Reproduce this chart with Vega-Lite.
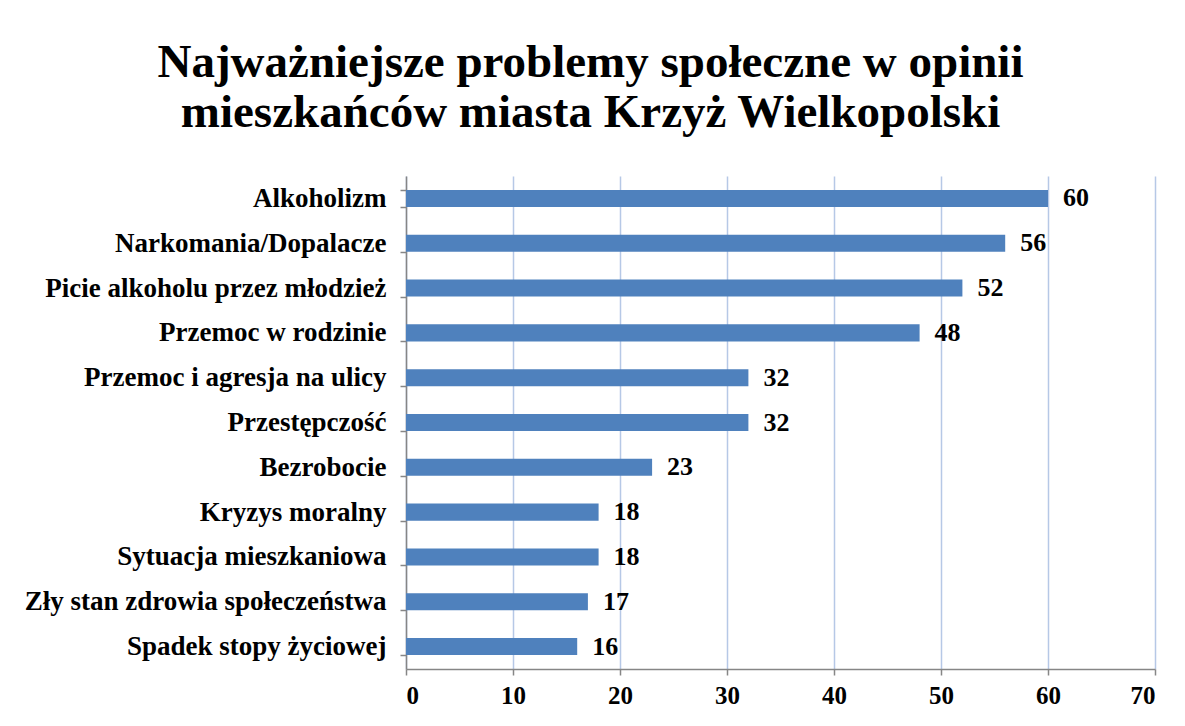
{
  "$schema": "https://vega.github.io/schema/vega-lite/v6.json",
  "width": 749,
  "height": 493,
  "autosize": {"type": "none"},
  "padding": {"left": 406, "top": 176, "right": 30, "bottom": 57},
  "background": "white",
  "title": {
    "text": ["Najważniejsze problemy społeczne w opinii", "mieszkańców miasta Krzyż Wielkopolski"],
    "font": "Liberation Serif",
    "fontSize": 47,
    "fontWeight": "bold",
    "color": "#000000",
    "anchor": "middle",
    "frame": "group",
    "dx": -190,
    "lineHeight": 50,
    "offset": 25
  },
  "config": {
    "view": {"stroke": null},
    "axis": {
      "labelFont": "Liberation Serif",
      "labelFontSize": 27,
      "labelFontWeight": "bold",
      "labelColor": "#000000",
      "labelLimit": 0,
      "domainColor": "#868686",
      "tickColor": "#868686",
      "domainWidth": 1.5,
      "tickWidth": 1.5,
      "title": null
    }
  },
  "data": {
    "values": [
      {"problem": "Alkoholizm", "value": 60},
      {"problem": "Narkomania/Dopalacze", "value": 56},
      {"problem": "Picie alkoholu przez młodzież", "value": 52},
      {"problem": "Przemoc w rodzinie", "value": 48},
      {"problem": "Przemoc i agresja na ulicy", "value": 32},
      {"problem": "Przestępczość", "value": 32},
      {"problem": "Bezrobocie", "value": 23},
      {"problem": "Kryzys moralny", "value": 18},
      {"problem": "Sytuacja mieszkaniowa", "value": 18},
      {"problem": "Zły stan zdrowia społeczeństwa", "value": 17},
      {"problem": "Spadek stopy życiowej", "value": 16}
    ]
  },
  "encoding": {
    "y": {
      "field": "problem",
      "type": "nominal",
      "sort": null,
      "scale": {"paddingInner": 0.62, "paddingOuter": 0.31},
      "axis": {
        "tickBand": "extent",
        "tickSize": 6,
        "labelPadding": 14,
        "grid": false
      }
    },
    "x": {
      "field": "value",
      "type": "quantitative",
      "scale": {"domain": [0, 70], "nice": false},
      "axis": {
        "values": [0, 10, 20, 30, 40, 50, 60, 70],
        "tickSize": 6,
        "labelPadding": 8,
        "labelFontSize": 25,
        "grid": true,
        "gridColor": "#b6c8e6",
        "gridWidth": 1.5
      }
    }
  },
  "layer": [
    {"mark": {"type": "bar", "color": "#4f81bd"}},
    {
      "mark": {
        "type": "text",
        "align": "left",
        "baseline": "middle",
        "dx": 15,
        "font": "Liberation Serif",
        "fontSize": 26,
        "fontWeight": "bold",
        "color": "#000000"
      },
      "encoding": {"text": {"field": "value", "type": "quantitative"}}
    }
  ]
}
